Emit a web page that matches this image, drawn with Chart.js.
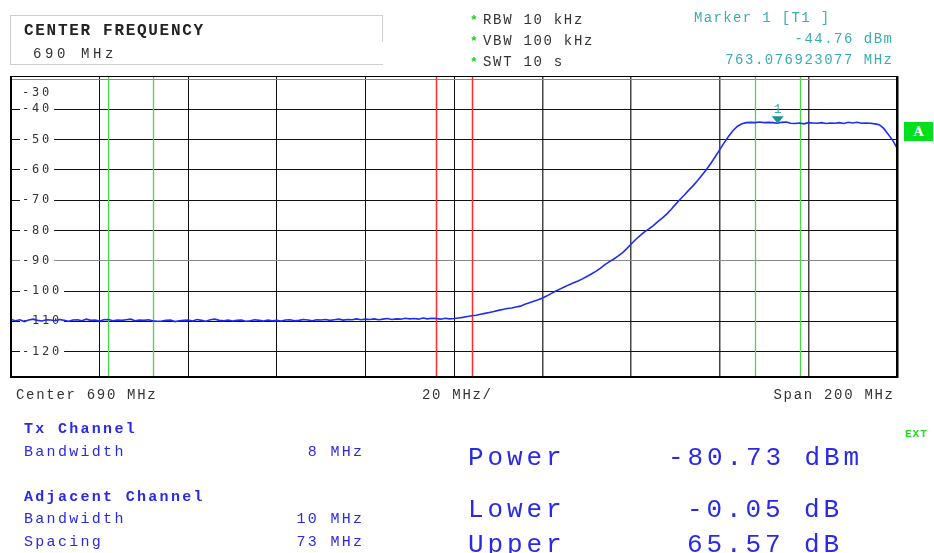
<!DOCTYPE html>
<html>
<head>
<meta charset="utf-8">
<script src="https://cdn.jsdelivr.net/npm/chart.js@4.4.1/dist/chart.umd.min.js"></script>
<style>
  html, body { margin: 0; padding: 0; background: #fff; overflow: hidden; }
  #wrap { position: relative; width: 934px; height: 553px; overflow: hidden; }
  #wrap canvas { position: absolute; left: 0; top: 0; }
  .t { position: absolute; white-space: pre; line-height: 1; font-family: 'Liberation Mono', monospace; }
  .gray { color: #333; font-size: 14px; letter-spacing: 1.7px; }
  .teal { color: #3aadad; font-size: 14px; letter-spacing: 1.5px; }
  .blue { color: #2a2ae6; font-size: 15px; letter-spacing: 2.3px; }
  .big { color: #2a2ae6; font-size: 26px; letter-spacing: 3.9px; }
  .star { color: #22cc22; font-size: 13px; font-weight: bold; }
</style>
</head>
<body>
<div id="wrap">
  <canvas id="spec" width="934" height="553"></canvas>

  <div style="position:absolute;left:10px;top:15px;width:372px;height:48px;border:1px solid #cfcfcf;border-right:none;background:#fff;"></div>
  <div style="position:absolute;left:382px;top:15px;width:1px;height:27px;background:#cfcfcf;"></div>
  <div class="t" style="left:24px;top:22.7px;font-size:16px;font-weight:bold;letter-spacing:1.7px;color:#222;">CENTER FREQUENCY</div>
  <div class="t" style="left:33px;top:47.3px;font-size:14px;letter-spacing:3.6px;color:#333;">690 MHz</div>

  <div class="t star" style="left:470px;top:14px;">*</div>
  <div class="t star" style="left:470px;top:35px;">*</div>
  <div class="t star" style="left:470px;top:56px;">*</div>
  <div class="t gray" style="left:483px;top:13.3px;">RBW 10 kHz</div>
  <div class="t gray" style="left:483px;top:34.3px;">VBW 100 kHz</div>
  <div class="t gray" style="left:483px;top:55.3px;">SWT 10 s</div>

  <div class="t teal" style="left:694px;top:11.3px;letter-spacing:1.35px;">Marker 1 [T1 ]</div>
  <div class="t teal" style="right:40.5px;top:32.3px;">-44.76 dBm</div>
  <div class="t teal" style="right:40.5px;top:53.3px;">763.076923077 MHz</div>

  <div class="t gray" style="left:16px;top:387.8px;">Center 690 MHz</div>
  <div class="t gray" style="left:422px;top:387.8px;">20 MHz/</div>
  <div class="t gray" style="right:39.3px;top:387.8px;">Span 200 MHz</div>

  <div style="position:absolute;left:904px;top:122px;width:29px;height:19px;background:#00e01c;color:#fff;font:bold 13px 'DejaVu Serif',serif;text-align:center;line-height:19px;">A</div>
  <div class="t" style="left:905px;top:429px;font-size:11px;font-weight:bold;letter-spacing:1px;color:#22dd22;">EXT</div>

  <div class="t blue" style="left:24px;top:421.5px;font-weight:bold;">Tx Channel</div>
  <div class="t blue" style="left:24px;top:444.5px;">Bandwidth</div>
  <div class="t blue" style="right:569.7px;top:444.5px;">8 MHz</div>
  <div class="t blue" style="left:24px;top:489.5px;font-weight:bold;">Adjacent Channel</div>
  <div class="t blue" style="left:24px;top:511.8px;">Bandwidth</div>
  <div class="t blue" style="right:569.7px;top:511.8px;">10 MHz</div>
  <div class="t blue" style="left:24px;top:534.5px;">Spacing</div>
  <div class="t blue" style="right:569.7px;top:534.5px;">73 MHz</div>

  <div class="t big" style="left:468px;top:445.1px;">Power</div>
  <div class="t big" style="left:668px;top:445.1px;">-80.73 dBm</div>
  <div class="t big" style="left:468px;top:496.8px;">Lower</div>
  <div class="t big" style="left:687px;top:496.8px;">-0.05 dB</div>
  <div class="t big" style="left:468px;top:531.8px;">Upper</div>
  <div class="t big" style="left:687px;top:531.8px;">65.57 dB</div>
</div>

<script>
// sweep, MHz (center 690, span 200)
const sweepFreqMHz = [
  590, 591, 592, 593, 594, 595, 596, 597, 598, 599,
  600, 601, 602, 603, 604, 605, 606, 607, 608, 609,
  610, 611, 612, 613, 614, 615, 616, 617, 618, 619,
  620, 621, 622, 623, 624, 625, 626, 627, 628, 629,
  630, 631, 632, 633, 634, 635, 636, 637, 638, 639,
  640, 641, 642, 643, 644, 645, 646, 647, 648, 649,
  650, 651, 652, 653, 654, 655, 656, 657, 658, 659,
  660, 661, 662, 663, 664, 665, 666, 667, 668, 669,
  670, 671, 672, 673, 674, 675, 676, 677, 678, 679,
  680, 681, 682, 683, 684, 685, 686, 687, 688, 689,
  690, 691, 692, 693, 694, 695, 696, 697, 698, 699,
  700, 701, 702, 703, 704, 705, 706, 707, 708, 709,
  710, 711, 712, 713, 714, 715, 716, 717, 718, 719,
  720, 721, 722, 723, 724, 725, 726, 727, 728, 729,
  730, 731, 732, 733, 734, 735, 736, 737, 738, 739,
  740, 741, 742, 743, 744, 745, 746, 747, 748, 749,
  750, 751, 752, 753, 754, 755, 756, 757, 758, 759,
  760, 761, 762, 763, 764, 765, 766, 767, 768, 769,
  770, 771, 772, 773, 774, 775, 776, 777, 778, 779,
  780, 781, 782, 783, 784, 785, 786, 787, 788, 789, 790
];

// trace level, dBm
const traceDbm = [
  -109.4, -109.8, -109.5, -110.1, -109.6, -109.3, -109.7, -109.9, -109.5, -109.6,
  -109.8, -109.4, -109.7, -110.0, -109.6, -109.5, -109.8, -109.3, -109.7, -109.6,
  -109.9, -109.5, -109.4, -109.8, -109.6, -109.7, -109.5, -109.3, -109.8, -109.6,
  -109.7, -109.5, -109.8, -110.0, -109.9, -109.7, -109.6, -110.1, -109.8, -109.7,
  -109.6, -109.9, -109.4, -109.7, -110.0, -109.5, -109.3, -109.7, -109.8, -109.6,
  -109.9, -109.7, -109.6, -110.0, -109.8, -109.5, -109.7, -109.9, -109.6, -109.8,
  -109.7, -109.9, -109.6, -109.5, -109.8, -109.7, -109.4, -109.6, -109.8, -109.5,
  -109.6, -109.4, -109.7, -109.5, -109.3, -109.6, -109.4, -109.5, -109.2, -109.5,
  -109.3, -109.4, -109.2, -109.5, -109.3, -109.1, -109.4, -109.2, -109.3, -109.0,
  -109.2, -109.1, -109.3, -108.9, -109.2, -109.0, -109.1, -109.3, -109.0, -109.2,
  -109.1, -108.9, -108.7, -108.4, -108.2, -108.0, -107.7, -107.4, -107.1, -106.8,
  -106.4, -106.1, -105.8, -105.6, -105.3, -105.0, -104.4, -103.9, -103.4, -102.9,
  -102.3, -101.6, -100.8, -100.0, -99.3, -98.6, -97.9, -97.3, -96.7, -96.0,
  -95.2, -94.4, -93.5, -92.5, -91.4, -90.4, -89.5, -88.5, -87.4, -86.0,
  -84.5, -83.0, -81.7, -80.5, -79.5, -78.4, -77.1, -75.9, -74.6, -73.1,
  -71.4, -69.8, -68.3, -66.7, -65.2, -63.5, -61.7, -59.9, -57.8, -55.6,
  -53.3, -51.0, -48.9, -47.0, -45.6, -44.8, -44.4, -44.3, -44.4, -44.2,
  -44.4, -44.3, -44.4, -44.6, -44.3, -44.2, -44.6, -44.7, -44.5, -44.8,
  -44.4, -44.5, -44.6, -44.4, -44.7, -44.5, -44.6, -44.4, -44.7, -44.3,
  -44.5, -44.3, -44.6, -44.5, -44.6, -44.8, -45.1, -46.3, -48.2, -50.2, -52.7
];

const freqGridMHz = [610, 630, 650, 670, 690, 710, 730, 750, 770];
const levelGridDbm = [-30, -40, -50, -60, -70, -80, -90, -100, -110, -120];
const levelLabels = ['-30', '-40', '-50', '-60', '-70', '-80', '-90', '-100', '-110', '-120'];

// channel limits, MHz
const txChannel = [686, 694];
const adjChannels = [612, 622, 758, 768];

const marker = { freq: 763.076923077, level: -44.76, name: '1' };

const points = sweepFreqMHz.map((f, i) => ({ x: f, y: traceDbm[i] }));

const screenPlugin = {
  id: 'screen',
  beforeDatasetsDraw(chart) {
    const { ctx, chartArea: a, scales: { x, y } } = chart;
    ctx.save();
    // channel limit lines
    ctx.lineWidth = 1.3;
    ctx.strokeStyle = '#46d846';
    adjChannels.forEach(f => {
      const px = Math.round(x.getPixelForValue(f)) + 0.5;
      ctx.beginPath(); ctx.moveTo(px, a.top); ctx.lineTo(px, a.bottom); ctx.stroke();
    });
    ctx.lineWidth = 1.5;
    ctx.strokeStyle = '#ff2a2a';
    txChannel.forEach(f => {
      const px = Math.round(x.getPixelForValue(f)) + 0.5;
      ctx.beginPath(); ctx.moveTo(px, a.top); ctx.lineTo(px, a.bottom); ctx.stroke();
    });
    // level labels inside the grid
    ctx.font = '12px "DejaVu Sans Mono"';
    if ('letterSpacing' in ctx) ctx.letterSpacing = '2.8px';
    ctx.textBaseline = 'middle';
    levelGridDbm.forEach((v, i) => {
      let py = y.getPixelForValue(v);
      const w = ctx.measureText(levelLabels[i]).width;
      if (v === -30) {
        py += 14;
      } else {
        ctx.fillStyle = '#fff';
        ctx.fillRect(a.left + 9, py - 3, w + 4, 6);
      }
      ctx.fillStyle = '#333';
      ctx.fillText(levelLabels[i], a.left + 11, py);
    });
    ctx.restore();
  },
  afterDatasetsDraw(chart) {
    const { ctx, chartArea: a, scales: { x, y } } = chart;
    ctx.save();
    // frame
    ctx.fillStyle = '#000';
    ctx.fillRect(a.left, a.top, a.right - a.left, 1);
    ctx.fillRect(a.left - 1, a.top, 2, a.bottom - a.top + 1);
    ctx.fillRect(a.left - 1, a.bottom - 1, a.right - a.left + 2, 2);
    ctx.fillRect(a.right - 1, a.top, 2.5, a.bottom - a.top + 1);
    // marker
    const mx = x.getPixelForValue(marker.freq);
    const my = y.getPixelForValue(marker.level);
    ctx.fillStyle = '#159595';
    ctx.beginPath();
    ctx.moveTo(mx - 6, my - 7.5);
    ctx.lineTo(mx + 6, my - 7.5);
    ctx.lineTo(mx, my);
    ctx.closePath();
    ctx.fill();
    ctx.fillStyle = '#3aadad';
    ctx.font = '13px "Liberation Mono"';
    ctx.textAlign = 'center';
    ctx.textBaseline = 'alphabetic';
    ctx.fillText(marker.name, mx, my - 11);
    ctx.restore();
  }
};

new Chart(document.getElementById('spec'), {
  type: 'line',
  data: {
    datasets: [{
      data: points,
      borderColor: '#1f2df2',
      borderWidth: 1.6,
      pointRadius: 0,
      tension: 0,
      fill: false
    }]
  },
  options: {
    responsive: false,
    animation: false,
    layout: { padding: { left: 11, right: 37, top: 76, bottom: 176 } },
    plugins: { legend: { display: false }, tooltip: { enabled: false } },
    scales: {
      x: {
        type: 'linear',
        min: 590,
        max: 790,
        afterBuildTicks: s => { s.ticks = freqGridMHz.map(v => ({ value: v })); },
        ticks: { display: false },
        border: { display: false },
        grid: {
          drawTicks: false,
          color: c => (c.tick && c.tick.value >= 710 ? '#444' : '#111'),
          lineWidth: c => (c.tick && c.tick.value >= 710 ? 1.5 : 1)
        }
      },
      y: {
        min: -128.4,
        max: -29.0,
        afterBuildTicks: s => { s.ticks = levelGridDbm.map(v => ({ value: v })); },
        ticks: { display: false },
        border: { display: false },
        grid: {
          drawTicks: false,
          color: c => (c.tick && (c.tick.value === -30 || c.tick.value === -90) ? '#8a8a8a' : '#111'),
          lineWidth: 1
        }
      }
    }
  },
  plugins: [screenPlugin]
});
</script>
</body>
</html>
